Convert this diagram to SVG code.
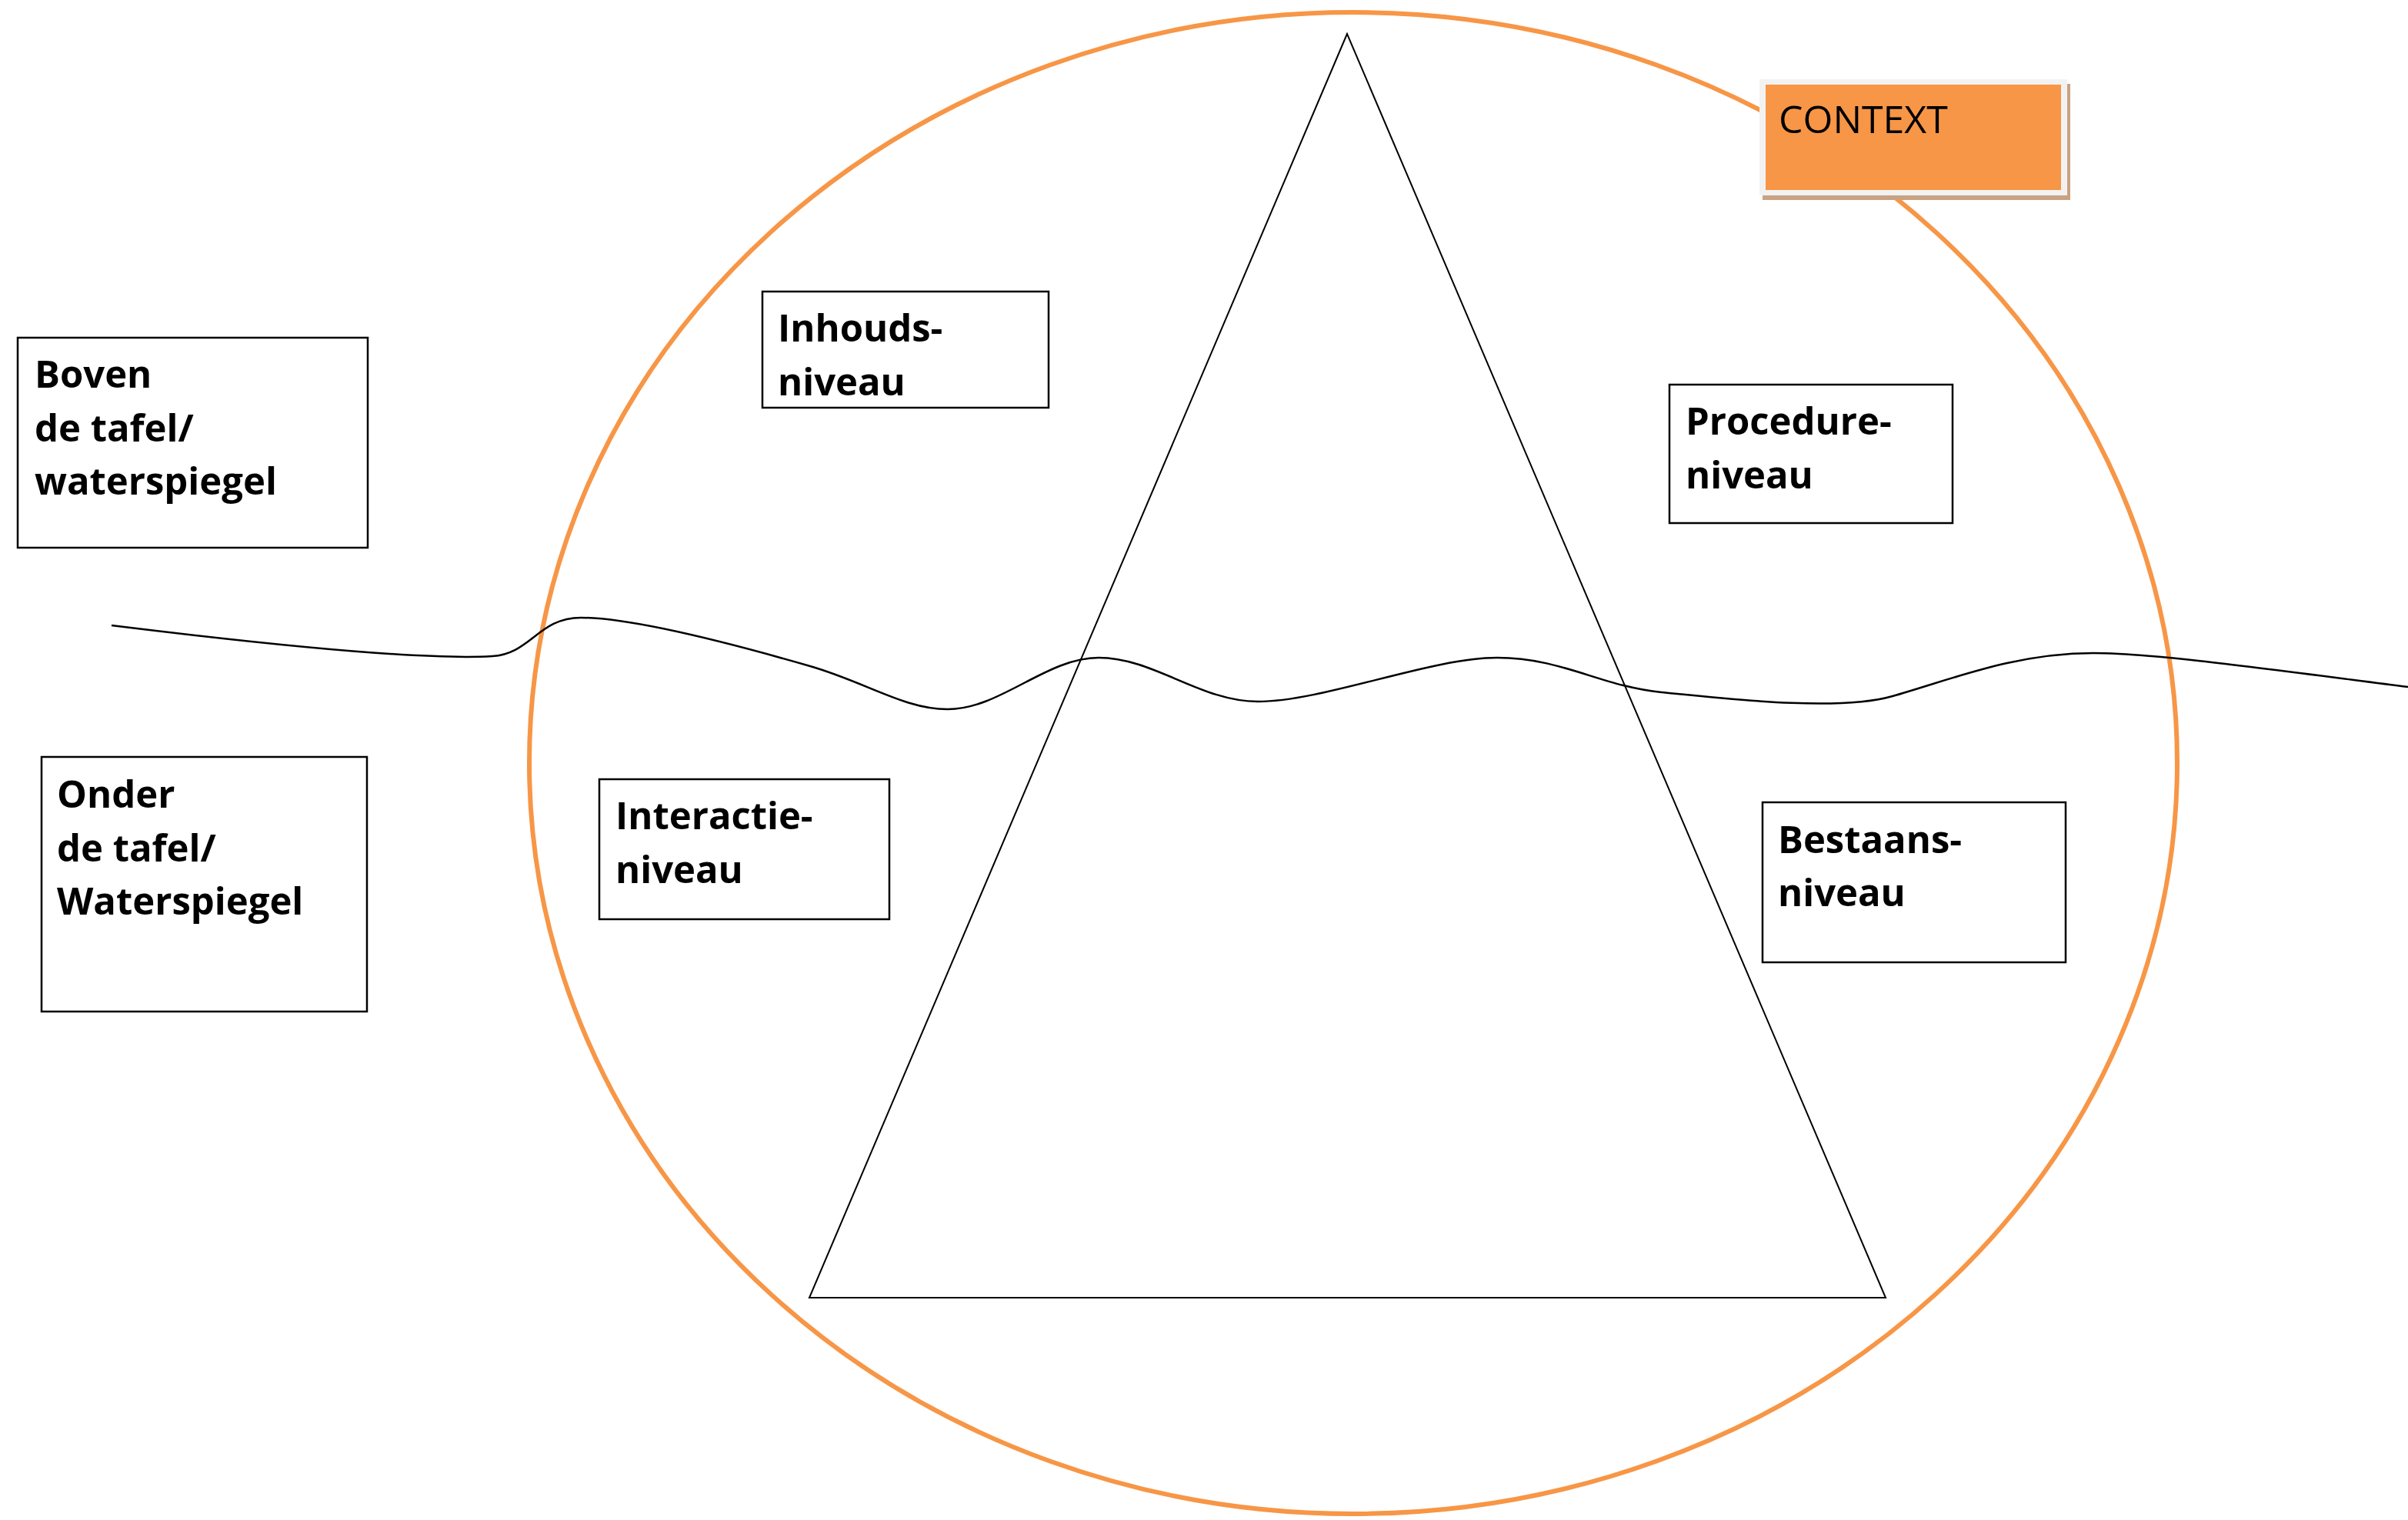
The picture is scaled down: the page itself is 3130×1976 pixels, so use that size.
<svg xmlns="http://www.w3.org/2000/svg" width="3130" height="1976" viewBox="0 0 3130 1976">
<style>
.box{fill:#ffffff;stroke:#000000;stroke-width:2.5}
.lbl{font-family:"Open Sans","Liberation Sans",sans-serif;font-weight:bold;font-size:49px;fill:#000000}
.ctx{font-family:"Open Sans","Liberation Sans",sans-serif;font-size:50px;fill:#000000}
</style>
<rect x="0" y="0" width="3130" height="1976" fill="#ffffff"/>
<g id="context-ellipse">
<ellipse cx="1759" cy="992" rx="1071" ry="976" fill="none" stroke="#f79646" stroke-width="6"/>
</g>
<g id="triangle">
<polygon points="1751,44 1052,1687 2451,1687" fill="none" stroke="#000000" stroke-width="2"/>
</g>
<g id="connectors">
<path id="waterline" fill="none" stroke="#000000" stroke-width="2.5" d="M145,813 C380,842 560,858 640,853 C690,850 700,803 755,803 C830,803 980,845 1053,866 C1126,887 1175,922 1232,922 C1300,922 1360,855 1428,855 C1500,855 1560,912 1635,912 C1720,912 1860,855 1946,855 C2030,855 2080,892 2160,900 C2250,909 2390,925 2460,905 C2540,882 2620,849 2721,849 C2800,849 2950,870 3130,893"/>
</g>
<g id="boven">
<rect class="box" x="23" y="439" width="455" height="273"/>
<text class="lbl" x="45" y="504">Boven</text>
<text class="lbl" x="45" y="574">de tafel/</text>
<text class="lbl" x="45" y="643">waterspiegel</text>
</g>
<g id="onder">
<rect class="box" x="54" y="984" width="423" height="331"/>
<text class="lbl" x="74" y="1050">Onder</text>
<text class="lbl" x="74" y="1120">de tafel/</text>
<text class="lbl" x="74" y="1189">Waterspiegel</text>
</g>
<g id="inhouds">
<rect class="box" x="991" y="379" width="372" height="151"/>
<text class="lbl" x="1011" y="444">Inhouds-</text>
<text class="lbl" x="1011" y="514">niveau</text>
</g>
<g id="procedure">
<rect class="box" x="2170" y="500" width="368" height="180"/>
<text class="lbl" x="2191" y="565">Procedure-</text>
<text class="lbl" x="2191" y="635">niveau</text>
</g>
<g id="interactie">
<rect class="box" x="779" y="1013" width="377" height="182"/>
<text class="lbl" x="800" y="1078">Interactie-</text>
<text class="lbl" x="800" y="1148">niveau</text>
</g>
<g id="bestaans">
<rect class="box" x="2291" y="1043" width="394" height="208"/>
<text class="lbl" x="2311" y="1109">Bestaans-</text>
<text class="lbl" x="2311" y="1178">niveau</text>
</g>
<g id="context">
<rect x="2291" y="109" width="400" height="151" fill="#c9a283"/>
<rect x="2287" y="103" width="400" height="151" fill="#f2f2f2"/>
<rect x="2295" y="110" width="384" height="137" fill="#f79646"/>
<text class="ctx" x="2312" y="173">CONTEXT</text>
</g>
</svg>
